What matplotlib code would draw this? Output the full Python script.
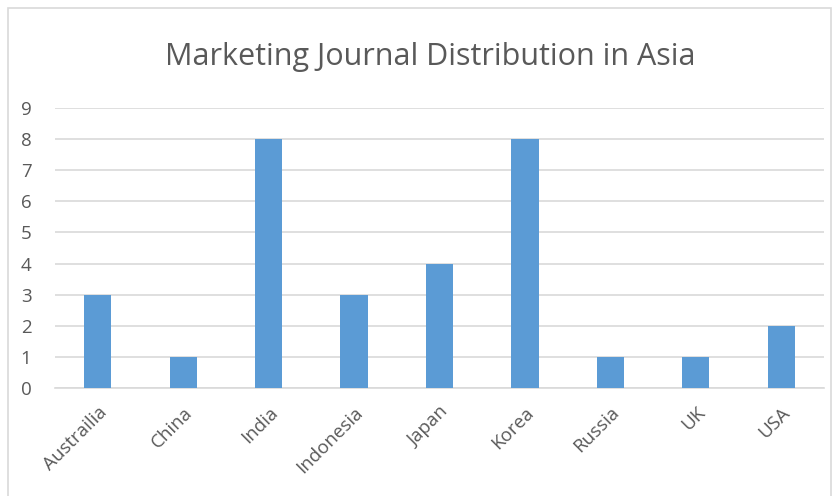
import matplotlib.pyplot as plt
from matplotlib.patches import Rectangle

countries = ["Austrailia", "China", "India", "Indonesia", "Japan", "Korea", "Russia", "UK", "USA"]
journals = [3, 1, 8, 3, 4, 8, 1, 1, 2]
yticks = list(range(0, 10))

plt.rcParams['font.family'] = ['Open Sans', 'DejaVu Sans']

fig = plt.figure(figsize=(8.39, 4.96), dpi=100)
ax = fig.add_axes([0.0656, 0.2177, 0.9164, 0.5646])

# chart frame like the excel chart area
fig.patches.append(Rectangle((8 / 839, -0.01), 823 / 839, 1 - 8 / 496 + 0.01,
                             transform=fig.transFigure, fill=False,
                             edgecolor="#D9D9D9", linewidth=1.2))

x = range(len(countries))
ax.bar(x, journals, width=0.32, color="#5B9BD5", zorder=3)

ax.set_xlim(-0.5, len(countries) - 0.5)
ax.set_ylim(0, 9)
ax.set_yticks(yticks)
ax.set_xticks(list(x))
ax.set_xticklabels(countries, rotation=45, ha="right", rotation_mode="anchor")
ax.grid(axis="y", color="#D9D9D9", linewidth=1.2, zorder=0)
for s in ["top", "right", "left"]:
    ax.spines[s].set_visible(False)
ax.spines["bottom"].set_color("#D9D9D9")
ax.spines["bottom"].set_linewidth(1.2)
ax.tick_params(axis="both", length=0, colors="#595959", labelsize=13.5)
ax.tick_params(axis="y", pad=17)
ax.tick_params(axis="x", pad=11)

fig.text(0.513, 0.886, "Marketing Journal Distribution in Asia", ha="center", va="center",
         fontsize=22, color="#595959")

fig.savefig("out.png", dpi=100)
